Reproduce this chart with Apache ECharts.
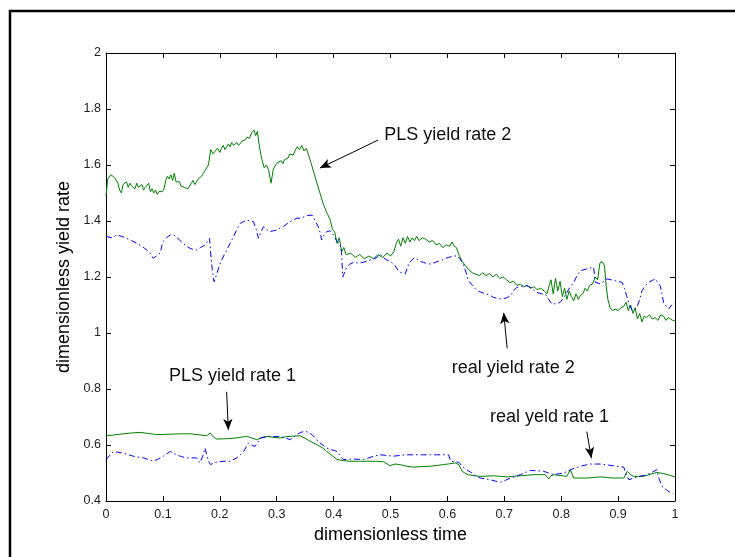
<!DOCTYPE html>
<html>
<head>
<meta charset="utf-8">
<script src="https://cdn.jsdelivr.net/npm/echarts@6/dist/echarts.min.js"></script>
<style>
  html, body { margin: 0; padding: 0; background: #fff; }
  #chart { width: 735px; height: 557px; }
</style>
</head>
<body>
<div id="chart"></div>
<script>
// ---- data -------------------------------------------------------------
const xTicks = [0, 0.1, 0.2, 0.3, 0.4, 0.5, 0.6, 0.7, 0.8, 0.9, 1];
const yTicks = [0.4, 0.6, 0.8, 1, 1.2, 1.4, 1.6, 1.8, 2];

// PLS yield rate 2
const pls2Time = [0,0.003,0.006,0.009,0.012,0.015,0.018,0.021,0.024,0.027,0.03,0.033,0.036,0.039,0.042,0.045,0.048,0.051,0.054,0.057,0.06,0.063,0.066,0.069,0.072,0.075,0.078,0.081,0.084,0.087,0.09,0.093,0.096,0.099,0.102,0.105,0.108,0.111,0.114,0.117,0.12,0.123,0.126,0.129,0.132,0.135,0.138,0.141,0.144,0.147,0.15,0.153,0.156,0.159,0.162,0.165,0.168,0.171,0.174,0.177,0.18,0.184,0.188,0.192,0.196,0.2,0.203,0.206,0.209,0.212,0.215,0.218,0.221,0.224,0.227,0.23,0.233,0.236,0.239,0.242,0.245,0.248,0.252,0.256,0.26,0.263,0.266,0.27,0.274,0.278,0.282,0.286,0.29,0.294,0.298,0.302,0.305,0.308,0.311,0.314,0.317,0.32,0.323,0.326,0.329,0.332,0.336,0.34,0.344,0.348,0.352,0.356,0.36,0.365,0.37,0.376,0.382,0.388,0.394,0.398,0.402,0.406,0.41,0.414,0.418,0.422,0.43,0.438,0.446,0.454,0.462,0.47,0.478,0.486,0.494,0.5,0.506,0.51,0.514,0.518,0.522,0.526,0.53,0.534,0.538,0.542,0.546,0.55,0.556,0.562,0.568,0.574,0.58,0.586,0.592,0.598,0.604,0.608,0.612,0.616,0.62,0.626,0.632,0.638,0.644,0.65,0.656,0.662,0.668,0.674,0.68,0.686,0.692,0.698,0.704,0.71,0.716,0.722,0.728,0.734,0.74,0.746,0.752,0.758,0.764,0.77,0.775,0.779,0.782,0.786,0.79,0.794,0.798,0.802,0.806,0.81,0.814,0.818,0.822,0.826,0.83,0.834,0.838,0.842,0.846,0.85,0.855,0.86,0.864,0.868,0.872,0.876,0.879,0.882,0.886,0.89,0.895,0.9,0.905,0.91,0.914,0.918,0.922,0.926,0.93,0.934,0.938,0.942,0.946,0.95,0.955,0.96,0.965,0.97,0.975,0.98,0.984,0.988,0.992,0.996,1];
const pls2Rate = [1.49,1.55,1.545,1.565,1.57,1.555,1.56,1.535,1.51,1.50,1.53,1.525,1.54,1.52,1.535,1.525,1.53,1.515,1.535,1.52,1.525,1.53,1.51,1.52,1.515,1.535,1.505,1.515,1.50,1.51,1.495,1.505,1.51,1.505,1.515,1.545,1.56,1.55,1.565,1.545,1.57,1.54,1.535,1.54,1.525,1.53,1.52,1.525,1.515,1.52,1.535,1.545,1.53,1.54,1.55,1.545,1.56,1.57,1.58,1.59,1.60,1.655,1.64,1.65,1.66,1.645,1.66,1.67,1.655,1.665,1.675,1.665,1.68,1.67,1.675,1.68,1.67,1.675,1.685,1.68,1.69,1.70,1.695,1.715,1.725,1.705,1.72,1.66,1.62,1.59,1.60,1.58,1.535,1.585,1.60,1.61,1.605,1.615,1.605,1.62,1.615,1.625,1.64,1.645,1.635,1.65,1.665,1.655,1.67,1.65,1.66,1.635,1.61,1.575,1.54,1.50,1.46,1.43,1.405,1.37,1.36,1.32,1.34,1.29,1.305,1.28,1.285,1.27,1.28,1.265,1.275,1.265,1.28,1.27,1.285,1.275,1.29,1.32,1.335,1.31,1.34,1.32,1.345,1.325,1.34,1.33,1.345,1.33,1.34,1.335,1.325,1.33,1.315,1.32,1.305,1.315,1.31,1.325,1.31,1.305,1.28,1.255,1.24,1.225,1.215,1.21,1.205,1.215,1.205,1.212,1.2,1.21,1.195,1.2,1.19,1.18,1.185,1.17,1.175,1.165,1.17,1.16,1.165,1.155,1.16,1.15,1.14,1.17,1.19,1.14,1.195,1.15,1.185,1.13,1.16,1.12,1.15,1.13,1.115,1.14,1.12,1.135,1.14,1.16,1.15,1.17,1.175,1.20,1.19,1.25,1.255,1.24,1.17,1.12,1.09,1.08,1.085,1.08,1.09,1.095,1.11,1.08,1.10,1.07,1.09,1.05,1.07,1.04,1.06,1.055,1.065,1.05,1.055,1.045,1.065,1.06,1.045,1.055,1.05,1.045,1.045];

// real yield rate 2
const real2Time = [0,0.01,0.019,0.028,0.036,0.045,0.054,0.063,0.072,0.078,0.083,0.089,0.095,0.1,0.106,0.113,0.118,0.124,0.13,0.136,0.142,0.148,0.154,0.159,0.166,0.174,0.179,0.182,0.184,0.187,0.19,0.195,0.199,0.203,0.208,0.212,0.218,0.224,0.23,0.236,0.242,0.247,0.253,0.259,0.264,0.268,0.272,0.277,0.282,0.288,0.294,0.3,0.306,0.312,0.318,0.324,0.33,0.336,0.341,0.348,0.355,0.362,0.368,0.373,0.376,0.379,0.383,0.388,0.394,0.4,0.405,0.411,0.414,0.416,0.418,0.423,0.428,0.435,0.444,0.452,0.46,0.47,0.476,0.482,0.487,0.492,0.497,0.503,0.508,0.513,0.517,0.522,0.526,0.529,0.532,0.537,0.543,0.549,0.553,0.558,0.564,0.57,0.576,0.582,0.588,0.595,0.602,0.61,0.617,0.622,0.628,0.633,0.637,0.644,0.652,0.66,0.669,0.675,0.681,0.688,0.696,0.703,0.711,0.716,0.722,0.731,0.74,0.748,0.757,0.765,0.772,0.778,0.784,0.791,0.798,0.804,0.81,0.816,0.822,0.828,0.834,0.84,0.845,0.851,0.857,0.86,0.865,0.869,0.875,0.881,0.888,0.895,0.901,0.907,0.911,0.915,0.92,0.925,0.929,0.933,0.938,0.942,0.948,0.954,0.96,0.966,0.97,0.974,0.977,0.98,0.985,0.989,0.994,1];
const real2Rate = [1.345,1.34,1.35,1.345,1.338,1.33,1.32,1.31,1.296,1.285,1.267,1.275,1.285,1.326,1.34,1.35,1.35,1.344,1.33,1.32,1.31,1.302,1.298,1.296,1.305,1.314,1.33,1.338,1.285,1.22,1.183,1.213,1.24,1.26,1.28,1.296,1.32,1.344,1.37,1.392,1.398,1.404,1.40,1.398,1.37,1.338,1.36,1.38,1.37,1.362,1.365,1.368,1.375,1.38,1.39,1.398,1.405,1.41,1.41,1.415,1.42,1.421,1.40,1.38,1.36,1.332,1.35,1.362,1.365,1.35,1.33,1.32,1.288,1.20,1.199,1.235,1.245,1.252,1.25,1.252,1.258,1.264,1.27,1.282,1.27,1.262,1.258,1.25,1.24,1.225,1.217,1.213,1.211,1.23,1.246,1.26,1.27,1.26,1.255,1.252,1.248,1.246,1.25,1.255,1.258,1.265,1.27,1.274,1.276,1.265,1.246,1.215,1.187,1.17,1.151,1.145,1.139,1.135,1.127,1.124,1.121,1.125,1.133,1.15,1.163,1.167,1.169,1.16,1.145,1.14,1.139,1.12,1.103,1.105,1.109,1.125,1.145,1.165,1.181,1.205,1.223,1.226,1.229,1.232,1.235,1.181,1.178,1.175,1.185,1.193,1.19,1.187,1.184,1.181,1.16,1.133,1.10,1.08,1.085,1.092,1.12,1.151,1.17,1.181,1.188,1.193,1.18,1.169,1.14,1.109,1.095,1.086,1.10,1.109];

// PLS yield rate 1
const pls1Time = [0,0.015,0.03,0.045,0.06,0.075,0.089,0.103,0.118,0.133,0.148,0.162,0.177,0.183,0.189,0.195,0.206,0.218,0.232,0.247,0.256,0.265,0.274,0.283,0.295,0.306,0.315,0.324,0.333,0.341,0.35,0.359,0.368,0.376,0.382,0.388,0.397,0.406,0.418,0.429,0.444,0.458,0.473,0.488,0.499,0.508,0.517,0.528,0.54,0.555,0.57,0.582,0.593,0.604,0.614,0.62,0.626,0.632,0.637,0.648,0.658,0.67,0.681,0.693,0.705,0.716,0.728,0.74,0.752,0.762,0.772,0.778,0.782,0.787,0.798,0.81,0.816,0.822,0.834,0.845,0.857,0.869,0.88,0.892,0.902,0.91,0.916,0.922,0.927,0.936,0.945,0.956,0.968,0.974,0.98,0.99,1];
const pls1Rate = [0.633,0.636,0.64,0.643,0.645,0.641,0.637,0.638,0.639,0.64,0.64,0.637,0.633,0.643,0.628,0.621,0.622,0.623,0.626,0.631,0.625,0.619,0.627,0.631,0.627,0.625,0.629,0.631,0.632,0.633,0.624,0.613,0.604,0.595,0.588,0.577,0.563,0.548,0.544,0.542,0.542,0.542,0.542,0.54,0.526,0.532,0.53,0.524,0.521,0.523,0.524,0.527,0.53,0.533,0.536,0.53,0.506,0.498,0.494,0.49,0.488,0.489,0.49,0.488,0.486,0.488,0.49,0.492,0.494,0.494,0.494,0.479,0.49,0.494,0.491,0.488,0.512,0.482,0.482,0.482,0.484,0.486,0.484,0.482,0.482,0.482,0.506,0.494,0.488,0.488,0.488,0.495,0.502,0.5,0.498,0.492,0.486];

// real yield rate 1
const real1Time = [0,0.013,0.03,0.048,0.066,0.083,0.092,0.101,0.113,0.124,0.133,0.142,0.159,0.165,0.17,0.174,0.177,0.18,0.184,0.189,0.197,0.206,0.218,0.23,0.242,0.25,0.256,0.262,0.267,0.271,0.28,0.288,0.297,0.306,0.315,0.324,0.33,0.335,0.342,0.35,0.356,0.362,0.37,0.376,0.382,0.388,0.397,0.406,0.412,0.417,0.426,0.435,0.444,0.453,0.462,0.47,0.482,0.493,0.505,0.517,0.528,0.543,0.558,0.57,0.581,0.592,0.602,0.606,0.613,0.62,0.629,0.636,0.643,0.65,0.658,0.667,0.675,0.684,0.693,0.702,0.711,0.72,0.728,0.737,0.746,0.758,0.769,0.778,0.787,0.795,0.804,0.812,0.819,0.827,0.834,0.842,0.851,0.86,0.869,0.88,0.892,0.901,0.91,0.915,0.919,0.926,0.933,0.942,0.951,0.96,0.968,0.972,0.977,0.985,0.992,0.997];
const real1Rate = [0.548,0.577,0.571,0.56,0.554,0.542,0.55,0.56,0.577,0.565,0.558,0.554,0.554,0.536,0.56,0.589,0.565,0.542,0.53,0.536,0.54,0.542,0.542,0.554,0.577,0.607,0.60,0.595,0.61,0.625,0.628,0.631,0.63,0.631,0.625,0.619,0.628,0.637,0.645,0.649,0.645,0.637,0.62,0.607,0.598,0.589,0.583,0.577,0.56,0.548,0.549,0.55,0.549,0.548,0.554,0.56,0.565,0.563,0.56,0.563,0.565,0.565,0.565,0.565,0.565,0.565,0.565,0.542,0.54,0.538,0.518,0.509,0.5,0.49,0.482,0.479,0.476,0.471,0.467,0.474,0.482,0.488,0.494,0.502,0.509,0.508,0.506,0.5,0.494,0.497,0.5,0.507,0.514,0.519,0.524,0.528,0.532,0.532,0.532,0.529,0.526,0.523,0.521,0.49,0.476,0.481,0.486,0.49,0.494,0.503,0.512,0.48,0.452,0.44,0.429,0.426];

// ---- chart ------------------------------------------------------------
const FONT = '"Liberation Sans", Arial, sans-serif';
const zip = (xs, ys) => xs.map((x, i) => [x, ys[i]]);

const GREEN = '#008000';
const BLUE = '#0000ff';
const DASH_DOT = [6, 3, 1.5, 3];

// callout texts and arrows, anchored in data coordinates
const notes = [
  { text: 'PLS yield rate 2',  at: [0.6005, 1.707], from: [0.478, 1.689], to: [0.376, 1.589] },
  { text: 'real yield rate 2', at: [0.7157, 0.874], from: [0.705, 0.945], to: [0.699, 1.072] },
  { text: 'PLS yield rate 1',  at: [0.2224, 0.846], from: [0.212, 0.790], to: [0.215, 0.654] },
  { text: 'real yeld rate 1',  at: [0.7793, 0.700], from: [0.845, 0.648], to: [0.853, 0.553] }
];

const chart = echarts.init(document.getElementById('chart'), null, { renderer: 'canvas' });

const baseAxis = {
  min: 0, max: 1, interval: 0.1,
  axisLine: { show: true, onZero: false, lineStyle: { color: '#000', width: 1 } },
  axisTick: { show: true, inside: true, length: 5, lineStyle: { color: '#000', width: 1 } },
  splitLine: { show: false }
};

chart.setOption({
  animation: false,
  backgroundColor: '#fff',
  textStyle: { fontFamily: FONT },
  grid: { left: 106, right: 60, top: 53, bottom: 56, containLabel: false },
  graphic: [{
    type: 'rect',
    shape: { x: 10, y: 11, width: 900, height: 900 },
    style: { fill: 'none', stroke: '#000', lineWidth: 2.5 },
    silent: true
  }],
  xAxis: [
    Object.assign({}, baseAxis, {
      type: 'value', position: 'bottom',
      name: 'dimensionless time', nameLocation: 'middle', nameGap: 20,
      nameTextStyle: { fontSize: 18, color: '#000', fontFamily: FONT },
      axisLabel: { show: true, margin: 7, fontSize: 12.5, color: '#222', fontFamily: FONT,
        customValues: xTicks }
    }),
    Object.assign({}, baseAxis, {
      type: 'value', position: 'top',
      axisLabel: { show: false }
    })
  ],
  yAxis: [
    {
      type: 'value', position: 'left',
      min: 0.4, max: 2, interval: 0.2,
      axisLine: { show: true, onZero: false, lineStyle: { color: '#000', width: 1 } },
      axisTick: { show: true, inside: true, length: 5, lineStyle: { color: '#000', width: 1 } },
      splitLine: { show: false },
      name: 'dimensionless yield rate', nameLocation: 'middle', nameGap: 24,
      nameTextStyle: { fontSize: 18, color: '#000', fontFamily: FONT },
      axisLabel: { show: true, margin: 5, fontSize: 12.5, color: '#222', fontFamily: FONT,
        customValues: yTicks }
    },
    {
      type: 'value', position: 'right',
      min: 0.4, max: 2, interval: 0.2,
      axisLine: { show: true, onZero: false, lineStyle: { color: '#000', width: 1 } },
      axisTick: { show: true, inside: true, length: 5, lineStyle: { color: '#000', width: 1 } },
      splitLine: { show: false },
      axisLabel: { show: false }
    }
  ],
  series: [
    {
      name: 'PLS yield rate 2', type: 'line', showSymbol: false, symbol: 'none',
      data: zip(pls2Time, pls2Rate),
      lineStyle: { color: GREEN, width: 1 },
      z: 2,
      markLine: {
        silent: true, animation: false, symbol: ['none', 'arrow'], symbolSize: [7, 11],
        label: { show: false },
        lineStyle: { color: '#000', width: 1, type: 'solid' },
        emphasis: { disabled: true },
        data: notes.map(n => [{ coord: n.from }, { coord: n.to }])
      },
      markPoint: {
        silent: true, animation: false, symbol: 'circle', symbolSize: 0,
        itemStyle: { color: 'transparent' },
        label: { show: true, position: 'inside', fontSize: 18, color: '#111', fontFamily: FONT,
          formatter: p => p.name },
        data: notes.map(n => ({ name: n.text, coord: n.at }))
      }
    },
    {
      name: 'real yield rate 2', type: 'line', showSymbol: false, symbol: 'none',
      data: zip(real2Time, real2Rate),
      lineStyle: { color: BLUE, width: 1, type: DASH_DOT },
      z: 3
    },
    {
      name: 'PLS yield rate 1', type: 'line', showSymbol: false, symbol: 'none',
      data: zip(pls1Time, pls1Rate),
      lineStyle: { color: GREEN, width: 1 },
      z: 2
    },
    {
      name: 'real yield rate 1', type: 'line', showSymbol: false, symbol: 'none',
      data: zip(real1Time, real1Rate),
      lineStyle: { color: BLUE, width: 1, type: DASH_DOT },
      z: 3
    }
  ]
});
</script>
</body>
</html>
